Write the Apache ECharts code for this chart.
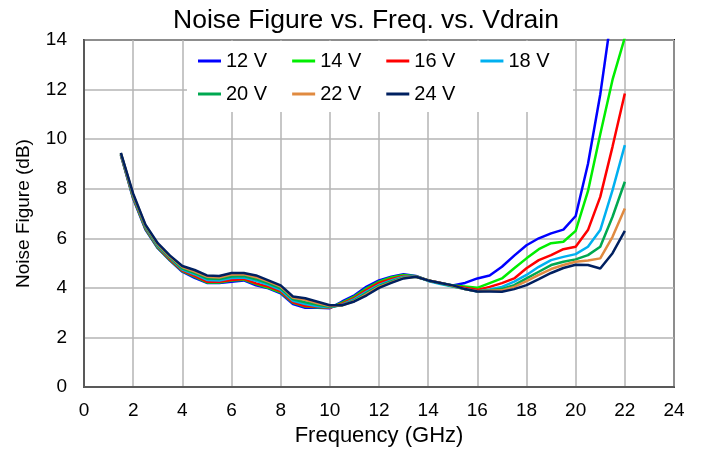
<!DOCTYPE html>
<html>
<head>
<meta charset="utf-8">
<script src="https://cdn.jsdelivr.net/npm/echarts@6/dist/echarts.min.js"></script>
<style>
html,body{margin:0;padding:0;background:#fff;}
#chart{width:702px;height:455px;}
</style>
</head>
<body>
<div id="chart"></div>
<script>
var freq = [1.5,2,2.5,3,3.5,4,4.5,5,5.5,6,6.5,7,7.5,8,8.5,9,9.5,10,10.5,11,11.5,12,12.5,13,13.5,14,14.5,15,15.5,16,16.5,17,17.5,18,18.5,19,19.5,20,20.5,21,21.5,22];

var nf12V = [9.35,7.6,6.35,5.6,5.1,4.65,4.4,4.2,4.2,4.25,4.3,4.1,3.98,3.78,3.35,3.2,3.2,3.18,3.45,3.7,4.05,4.3,4.45,4.55,4.48,4.3,4.2,4.1,4.2,4.38,4.5,4.85,5.3,5.72,6.0,6.2,6.35,6.9,9.0,11.8,15.3,null];
var nf14V = [9.37,7.63,6.38,5.62,5.12,4.68,4.45,4.22,4.22,4.3,4.33,4.15,4.0,3.82,3.4,3.25,3.22,3.2,3.4,3.65,3.98,4.25,4.42,4.52,4.47,4.3,4.2,4.1,4.05,4.0,4.19,4.38,4.79,5.19,5.56,5.8,5.86,6.3,7.9,10.2,12.4,14.1];
var nf16V = [9.38,7.66,6.41,5.65,5.15,4.7,4.48,4.25,4.25,4.32,4.36,4.18,4.05,3.86,3.42,3.27,3.24,3.2,3.36,3.6,3.92,4.2,4.36,4.48,4.46,4.3,4.2,4.08,4.0,3.92,4.04,4.19,4.38,4.79,5.12,5.32,5.56,5.66,6.33,7.67,9.7,11.84];
var nf18V = [9.4,7.7,6.45,5.68,5.2,4.74,4.55,4.32,4.3,4.4,4.42,4.28,4.12,3.92,3.48,3.35,3.26,3.22,3.32,3.55,3.85,4.12,4.3,4.45,4.46,4.28,4.15,4.05,3.95,3.85,3.93,4.04,4.25,4.52,4.85,5.12,5.25,5.36,5.66,6.33,7.94,9.76];
var nf20V = [9.42,7.72,6.48,5.72,5.22,4.78,4.6,4.38,4.36,4.46,4.48,4.35,4.18,3.98,3.54,3.42,3.32,3.24,3.3,3.5,3.8,4.08,4.26,4.42,4.45,4.3,4.18,4.06,3.95,3.86,3.9,3.96,4.11,4.38,4.65,4.92,5.05,5.15,5.32,5.66,6.87,8.28];
var nf22V = [9.43,7.76,6.52,5.76,5.26,4.84,4.66,4.45,4.42,4.54,4.55,4.43,4.25,4.05,3.6,3.52,3.38,3.27,3.3,3.47,3.75,4.04,4.22,4.4,4.45,4.3,4.2,4.08,3.95,3.86,3.88,3.9,4.04,4.27,4.52,4.76,4.92,5.05,5.1,5.19,6.06,7.2];
var nf24V = [9.45,7.8,6.55,5.8,5.3,4.88,4.72,4.5,4.48,4.6,4.6,4.5,4.3,4.1,3.65,3.58,3.44,3.3,3.3,3.45,3.7,4.0,4.2,4.38,4.45,4.3,4.2,4.1,3.95,3.85,3.85,3.84,3.95,4.11,4.35,4.6,4.8,4.93,4.92,4.78,5.4,6.3];

var seriesNames = ['12 V','14 V','16 V','18 V','20 V','22 V','24 V'];
var seriesValues = [nf12V,nf14V,nf16V,nf18V,nf20V,nf22V,nf24V];
var seriesColors = ['#0000ff','#00ee00','#ff0000','#00b0f0','#00a850','#e08a40','#002060'];

var xTicks = [0,2,4,6,8,10,12,14,16,18,20,22,24];
var yTicks = [0,2,4,6,8,10,12,14];

var FONT = '"Liberation Sans", Arial, sans-serif';

function pairs(vals){
  return freq.map(function(f,i){ return [f, vals[i]]; });
}

var series = seriesNames.map(function(n,i){
  return {
    name: n, type: 'line', data: pairs(seriesValues[i]),
    showSymbol: false, symbol: 'none', smooth: false,
    lineStyle: {width: 2.5, color: seriesColors[i]},
    itemStyle: {color: seriesColors[i]},
    connectNulls: false, clip: true, animation: false
  };
});

var legendCommon = {
  left: 198, icon: 'rect', itemWidth: 23, itemHeight: 3, itemGap: 25,
  textStyle: {fontFamily: FONT, fontSize: 20, color: '#000'},
  padding: 0, z: 10
};

var chart = echarts.init(document.getElementById('chart'), null, {renderer: 'canvas'});
chart.setOption({
  animation: false,
  backgroundColor: '#fff',
  title: {
    text: 'Noise Figure vs. Freq. vs. Vdrain',
    left: 361, top: 2, textAlign: 'center',
    textStyle: {fontFamily: FONT, fontSize: 26.5, fontWeight: 'normal', color: '#000'}
  },
  grid: {left: 84, right: 28, top: 40, bottom: 68, show: true, borderColor: '#1a1a1a', borderWidth: 2, backgroundColor: 'transparent'},
  graphic: [{
    type: 'rect', left: 187, top: 41, z: 5,
    shape: {width: 386, height: 71},
    style: {fill: '#fff'}
  }],
  legend: [
    Object.assign({}, legendCommon, {top: 51, data: seriesNames.slice(0,4)}),
    Object.assign({}, legendCommon, {top: 84, data: seriesNames.slice(4)})
  ],
  xAxis: {
    type: 'value', min: xTicks[0], max: xTicks[xTicks.length-1], interval: 2,
    name: 'Frequency (GHz)', nameLocation: 'middle', nameGap: 38,
    nameTextStyle: {fontFamily: FONT, fontSize: 22, color: '#000'},
    axisLine: {show: true, lineStyle: {color: '#595959', width: 2}},
    axisTick: {show: false},
    axisLabel: {fontFamily: FONT, fontSize: 19, color: '#000', margin: 14},
    splitLine: {show: true, lineStyle: {color: '#b4b4b4', width: 1.5}}
  },
  yAxis: {
    type: 'value', min: yTicks[0], max: yTicks[yTicks.length-1], interval: 2,
    name: 'Noise Figure (dB)', nameLocation: 'middle', nameGap: 51, nameRotate: 90,
    nameTextStyle: {fontFamily: FONT, fontSize: 19, color: '#000'},
    axisLine: {show: true, lineStyle: {color: '#595959', width: 2}},
    axisTick: {show: false},
    axisLabel: {fontFamily: FONT, fontSize: 19, color: '#000', margin: 17},
    splitLine: {show: true, lineStyle: {color: '#b4b4b4', width: 1.5}}
  },
  series: series
});
</script>
</body>
</html>
